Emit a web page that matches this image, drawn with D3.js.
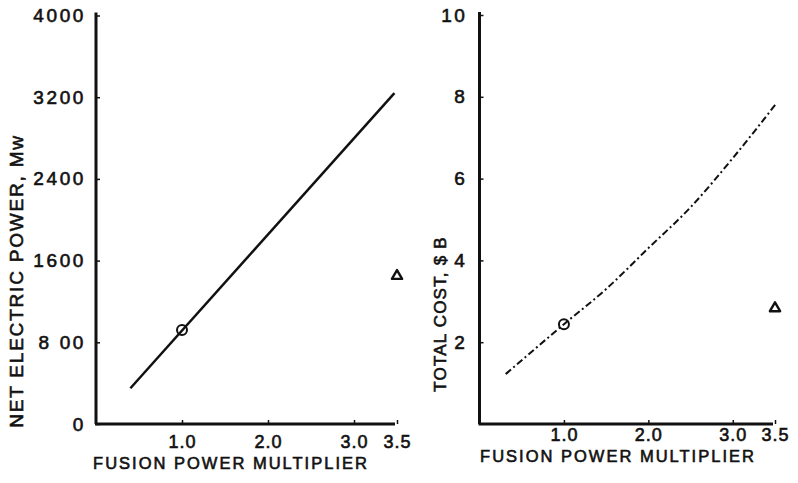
<!DOCTYPE html>
<html>
<head>
<meta charset="utf-8">
<script src="https://cdn.jsdelivr.net/npm/d3@7"></script>
<style>
  html, body { margin: 0; padding: 0; background: #fff; }
  svg text { font-family: "Liberation Sans", Arial, sans-serif; fill: #111; stroke: #111; stroke-width: 0.6px; }
</style>
</head>
<body>
<svg id="chart" width="798" height="483"></svg>
<script>
// --- data ---
const xTickValues = [1.0, 2.0, 3.0, 3.5];
const xTickLabels = ["1.0", "2.0", "3.0", "3.5"];

const powerTickValues = [0, 800, 1600, 2400, 3200, 4000];
const powerTickLabels = ["0", "8 00", "1600", "2400", "3200", "4000"];
const powerLineX = [0.40, 3.47];
const powerLineY = [350, 3240];
const powerCircle = [{ x: 1.0, y: 920 }];
const powerTriangle = [{ x: 3.5, y: 1450 }];

const costTickValues = [2, 4, 6, 8, 10];
const costTickLabels = ["2", "4", "6", "8", "10"];
const costLineX = [0.31, 1.0, 1.5, 2.0, 2.5, 3.0, 3.52];
const costLineY = [1.22, 2.44, 3.3, 4.3, 5.3, 6.5, 7.85];
const costCircle = [{ x: 1.0, y: 2.44 }];
const costTriangle = [{ x: 3.5, y: 2.83 }];

const svg = d3.select("#chart");

// draws one panel; opts holds geometry for that panel
function drawPanel(opts) {
    const x = d3.scaleLinear().domain([0, 3.5]).range(opts.xRange);
    const y = d3.scaleLinear().domain(opts.yDomain).range([424, opts.yTop]);
    const g = svg.append("g");

    const xAxis = g.append("g")
        .attr("transform", `translate(0, 424)`)
        .call(d3.axisBottom(x)
            .tickValues(xTickValues)
            .tickFormat((d, i) => xTickLabels[i])
            .tickSize(-4)
            .tickSizeOuter(0));
    xAxis.selectAll("text")
        .attr("y", opts.xLabelOffset)
        .attr("dy", "0.35em")
        .attr("font-size", 18)
        .style("letter-spacing", "1px");

    const yAxis = g.append("g")
        .attr("transform", `translate(${opts.xRange[0]}, 0)`)
        .call(d3.axisLeft(y)
            .tickValues(opts.yTicks)
            .tickFormat((d, i) => opts.yLabels[i])
            .tickSize(-4)
            .tickPadding(opts.yPad)
            .tickSizeOuter(0));
    yAxis.selectAll("text")
        .attr("font-size", 19)
        .style("letter-spacing", "2.6px");

    g.selectAll(".domain")
        .attr("stroke", "#111")
        .attr("stroke-width", 3);
    g.selectAll(".tick line")
        .attr("stroke", "#111")
        .attr("stroke-width", 1.5);
    // extend the y axis a little above the top tick
    yAxis.select(".domain").attr("d", `M0,${y(0)}V${opts.yTop - 3}`);
    xAxis.select(".domain").attr("d", `M-1,0H${opts.xRange[1] - opts.xRange[0] - 2}`)
        .attr("transform", `translate(${opts.xRange[0]},0)`);

    // axis titles
    g.append("text")
        .attr("x", opts.xTitleX)
        .attr("y", opts.xTitleY)
        .attr("dy", "0.35em")
        .attr("text-anchor", "middle")
        .attr("font-size", 16.5)
        .style("letter-spacing", "2px")
        .text("FUSION POWER MULTIPLIER");

    g.append("text")
        .attr("transform", `translate(${opts.yTitleX}, ${opts.yTitleY}) rotate(-90)`)
        .attr("dy", "0.35em")
        .attr("text-anchor", "middle")
        .attr("font-size", opts.yTitleSize)
        .style("letter-spacing", opts.yTitleSpacing)
        .text(opts.yTitle);

    // curve
    const pts = opts.lineX.map((v, i) => [v, opts.lineY[i]]);
    g.append("path")
        .datum(pts)
        .attr("fill", "none")
        .attr("stroke", "#111")
        .attr("stroke-width", opts.lineWidth)
        .attr("stroke-dasharray", opts.dash)
        .attr("d", d3.line().x(d => x(d[0])).y(d => y(d[1])).curve(d3.curveMonotoneX));

    g.selectAll("circle.pt")
        .data(opts.circle)
        .enter().append("circle")
        .attr("class", "pt")
        .attr("cx", d => x(d.x))
        .attr("cy", d => y(d.y))
        .attr("r", 5)
        .attr("fill", "none")
        .attr("stroke", "#111")
        .attr("stroke-width", 2);

    g.selectAll("path.tri")
        .data(opts.triangle)
        .enter().append("path")
        .attr("class", "tri")
        .attr("transform", d => `translate(${x(d.x)}, ${y(d.y)})`)
        .attr("d", d3.symbol(d3.symbolTriangle, 45))
        .attr("fill", "none")
        .attr("stroke", "#111")
        .attr("stroke-width", 2.4)
        .attr("stroke-linejoin", "round");
}

drawPanel({
    xRange: [96, 397],
    yDomain: [0, 4000],
    yTop: 15.5,
    yTicks: powerTickValues,
    yLabels: powerTickLabels,
    yPad: 10,
    xLabelOffset: 18,
    xTitleX: 231,
    xTitleY: 463,
    yTitleX: 16,
    yTitleY: 281,
    yTitle: "NET ELECTRIC POWER, Mw",
    yTitleSize: 19,
    yTitleSpacing: "1.8px",
    lineX: powerLineX,
    lineY: powerLineY,
    lineWidth: 2.5,
    dash: null,
    circle: powerCircle,
    triangle: powerTriangle
});

drawPanel({
    xRange: [479.5, 775],
    yDomain: [0, 10],
    yTop: 15,
    yTicks: costTickValues,
    yLabels: costTickLabels,
    yPad: 12,
    xLabelOffset: 11,
    xTitleX: 618,
    xTitleY: 456,
    yTitleX: 440,
    yTitleY: 314,
    yTitle: "TOTAL COST, $ B",
    yTitleSize: 17,
    yTitleSpacing: "1.2px",
    lineX: costLineX,
    lineY: costLineY,
    lineWidth: 2,
    dash: "7,3,2,3",
    circle: costCircle,
    triangle: costTriangle
});
</script>
</body>
</html>
